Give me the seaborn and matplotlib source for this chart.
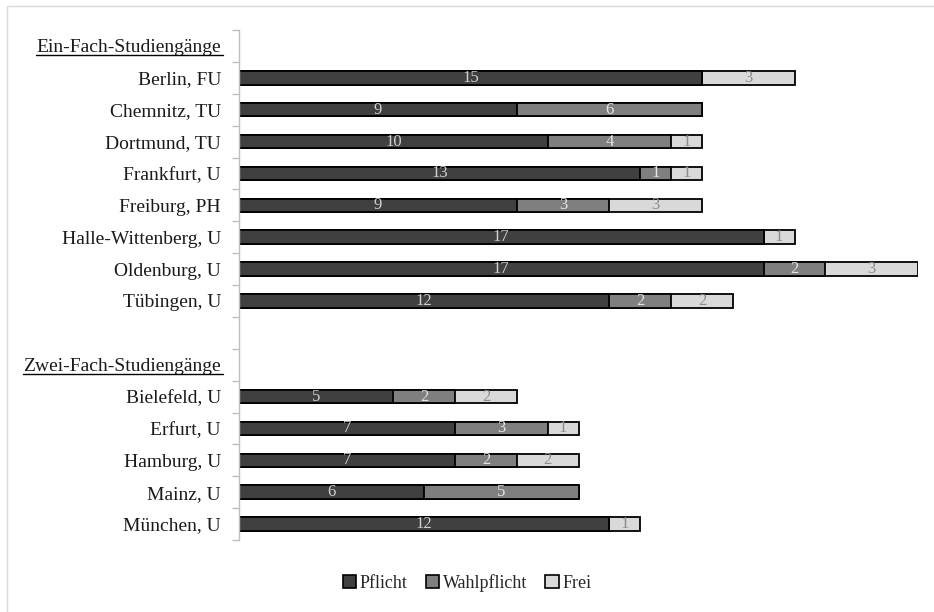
import matplotlib

matplotlib.use("Agg")
import matplotlib.pyplot as plt
import numpy as np
import pandas as pd
import seaborn as sns
from matplotlib.patches import Patch, Rectangle

# data
HEADER_1 = "Ein-Fach-Studiengänge"
HEADER_2 = "Zwei-Fach-Studiengänge"
BLANK = " "
universities = [
    "Berlin, FU", "Chemnitz, TU", "Dortmund, TU", "Frankfurt, U", "Freiburg, PH",
    "Halle-Wittenberg, U", "Oldenburg, U", "Tübingen, U",
    "Bielefeld, U", "Erfurt, U", "Hamburg, U", "Mainz, U", "München, U",
]
pflicht = [15, 9, 10, 13, 9, 17, 17, 12, 5, 7, 7, 6, 12]
wahlpflicht = [0, 6, 4, 1, 3, 0, 2, 2, 2, 3, 2, 5, 0]
frei = [3, 0, 1, 1, 3, 1, 3, 2, 2, 1, 2, 0, 1]
series_names = ["Pflicht", "Wahlpflicht", "Frei"]
series_colors = ["#404040", "#7f7f7f", "#d9d9d9"]
label_colors = ["#d0d0d0", "#e6e6e6", "#8c8c8c"]

row_order = [HEADER_1] + universities[:8] + [BLANK, HEADER_2] + universities[8:]

df = pd.DataFrame({
    "uni": universities,
    "Pflicht": pflicht,
    "Wahlpflicht": wahlpflicht,
    "Frei": frei,
})
df["cum_p"] = df["Pflicht"]
df["cum_w"] = df["Pflicht"] + df["Wahlpflicht"]
df["cum_f"] = df["cum_w"] + df["Frei"]

sns.set_theme(style="white")
plt.rcParams["font.family"] = ["Liberation Serif", "DejaVu Serif"]

fig = plt.figure(figsize=(9.34, 6.12), dpi=100)
ax = fig.add_axes([239 / 934, 1 - 540 / 612, (918 - 239) / 934, 510 / 612])

# stacked bars drawn as overlapping cumulative totals, longest first
for col, color in zip(["cum_f", "cum_w", "cum_p"], series_colors[::-1]):
    sns.barplot(data=df, x=col, y="uni", order=row_order, color=color,
                orient="h", width=0.42, edgecolor="black", linewidth=1.3,
                saturation=1, errorbar=None, ax=ax)

# segment value labels
pos = {name: i for i, name in enumerate(row_order)}
for _, r in df.iterrows():
    y = pos[r["uni"]]
    start = 0
    for name, lc in zip(series_names, label_colors):
        v = r[name]
        if v > 0:
            ax.text(start + v / 2, y, str(v), ha="center", va="center",
                    color=lc, fontsize=12)
        start += v

ax.set_xlim(0, 22)
ax.set_ylim(len(row_order) - 0.5, -0.5)
ax.set_xlabel("")
ax.set_ylabel("")
ax.set_xticks([])
ax.set_yticks(np.arange(len(row_order)))
ax.set_yticklabels(row_order, fontsize=14, color="#1a1a1a")
ax.set_yticks(np.arange(len(row_order) + 1) - 0.5, minor=True)
ax.tick_params(axis="y", which="major", length=0, pad=13)
ax.tick_params(axis="y", which="minor", length=5, color="#bfbfbf", width=1, left=True)
for side in ["top", "right", "bottom"]:
    ax.spines[side].set_visible(False)
ax.spines["left"].set_color("#bfbfbf")
ax.spines["left"].set_linewidth(1)

# underline the two group headers
fig.canvas.draw()
renderer = fig.canvas.get_renderer()
for lbl in ax.get_yticklabels():
    if lbl.get_text() in (HEADER_1, HEADER_2):
        bb = lbl.get_window_extent(renderer).transformed(fig.transFigure.inverted())
        fig.add_artist(plt.Line2D([bb.x0, bb.x1 + 0.002], [bb.y0 + 0.002, bb.y0 + 0.002],
                                  color="black", linewidth=1))

handles = [Patch(facecolor=c, edgecolor="black", linewidth=1.2) for c in series_colors]
fig.legend(handles, series_names, loc="center", bbox_to_anchor=(0.5, 1 - 583 / 612),
           ncol=3, frameon=False, fontsize=13, handlelength=0.75, handleheight=0.75,
           handletextpad=0.2, columnspacing=1.0)

# light outer frame of the chart area
fig.add_artist(Rectangle((7 / 934, -0.01), 1.0, 1 - 6 / 612 + 0.01, transform=fig.transFigure,
                         fill=False, edgecolor="#d9d9d9", linewidth=1))

fig.savefig("out.png", dpi=100)
